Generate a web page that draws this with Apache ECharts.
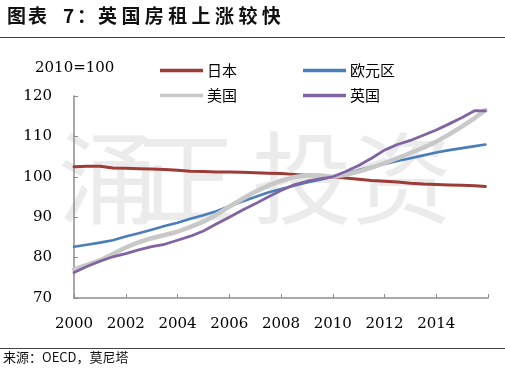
<!DOCTYPE html>
<html><head><meta charset="utf-8">
<script src="https://cdn.jsdelivr.net/npm/echarts@6/dist/echarts.min.js"></script>
<style>html,body{margin:0;padding:0;background:#fff;}#c{width:505px;height:369px;}</style>
</head><body><div id="c"></div>
<script>
const years = [2000,2000.5,2001,2001.5,2002,2002.5,2003,2003.5,2004,2004.5,2005,2005.5,2006,2006.5,2007,2007.5,2008,2008.5,2009,2009.5,2010,2010.5,2011,2011.5,2012,2012.5,2013,2013.5,2014,2014.5,2015,2015.5,2015.9];
const japan = [102.5,102.6,102.6,102.2,102.1,102.0,101.9,101.8,101.6,101.4,101.3,101.2,101.2,101.1,101.0,100.9,100.8,100.6,100.4,100.2,100.0,99.7,99.4,99.1,98.9,98.7,98.4,98.2,98.1,98.0,97.9,97.8,97.6];
const euro = [82.7,83.2,83.7,84.3,85.2,86.0,86.9,87.8,88.6,89.6,90.5,91.5,92.7,93.9,95.0,96.1,97.0,97.8,98.6,99.3,100.0,100.8,101.7,102.5,103.2,103.9,104.6,105.3,106.0,106.6,107.1,107.6,108.0];
const usa = [77.1,78.2,79.3,80.9,82.5,83.8,84.8,85.6,86.4,87.6,88.9,90.6,92.6,94.5,96.3,97.8,99.0,99.9,100.4,100.3,100.0,100.5,101.3,102.3,103.4,104.6,105.9,107.2,108.7,110.5,112.5,114.6,116.5];
const uk = [76.3,77.8,79.1,80.2,81.0,81.9,82.7,83.3,84.3,85.3,86.6,88.3,90.0,91.7,93.3,95.0,96.6,98.0,98.9,99.5,100.0,101.3,102.8,104.6,106.6,108.0,109.0,110.3,111.6,113.1,114.7,116.4,116.3];
const seriesNames = ['日本','欧元区','美国','英国'];
const xTicks = [2000,2002,2004,2006,2008,2010,2012,2014];
const titleText = '图表 7：英国房租上涨较快';
const unitText = '2010=100';
const sourceText = '来源：OECD，莫尼塔';
const watermark = '涌正投资';

const chart = echarts.init(document.getElementById('c'), null, {renderer:'canvas'});
const pair = v => years.map((y,i)=>[y, v[i]]);
const colors = ['#9d3b37','#4a7ebb','#c8c8c8','#8064a2'];
const widths = [3,2.6,4.5,2.8];
const vals = [japan, euro, usa, uk];

// title characters positions
const titleX = [7,28,63,77,98,121.4,144.8,168.2,191.6,215,238.4,261.8];
const tchars = Array.from(titleText).filter(c=>c!==' ');
const graphics = [];
tchars.forEach((ch,i)=>{
  graphics.push({type:'text', left:titleX[i], top:6, z:10, style:{text:ch, font:'bold 19px "Noto Sans CJK SC"', fill:'#111'}});
});
const wmX = [58,135,252,352];
Array.from(watermark).forEach((ch,i)=>{
  graphics.push({type:'text', left:wmX[i], top:128, z:-10, silent:true, style:{text:ch, font:'100px "Noto Sans CJK SC"', fill:'#ebebeb'}});
});
graphics.push({type:'line', z:10, shape:{x1:0,y1:37.5,x2:505,y2:37.5}, style:{stroke:'#444',lineWidth:1}});
graphics.push({type:'line', z:10, shape:{x1:0,y1:348.5,x2:505,y2:348.5}, style:{stroke:'#444',lineWidth:1}});
graphics.push({type:'text', left:3, top:351, style:{text:sourceText, font:'13px "Noto Sans CJK SC"', fill:'#111'}});
graphics.push({type:'text', left:35, top:61, style:{text:unitText, font:'15px "DejaVu Serif"', fill:'#000'}});

const legendPos = [[160,63],[303,63],[160,88],[303,88]];
const legends = seriesNames.map((n,i)=>({
  data:[n], left:legendPos[i][0], top:legendPos[i][1], orient:'horizontal',
  icon:'rect', itemWidth:43, itemHeight:3.5, itemGap:0, padding:0,
  textStyle:{fontFamily:'"Noto Sans CJK SC"', fontSize:15, color:'#000', padding:[0,0,0,-1]},
  selectedMode:false
}));

chart.setOption({
  animation:false,
  graphic:graphics,
  legend:legends,
  grid:{left:74, right:17, top:96, bottom:71, containLabel:false},
  xAxis:{type:'value', min:2000, max:2016, interval:2,
    axisLine:{lineStyle:{color:'#8c8c8c', width:1.5}},
    axisTick:{inside:true, length:4, lineStyle:{color:'#8c8c8c', width:1}},
    splitLine:{show:false},
    axisLabel:{margin:19, fontFamily:'DejaVu Serif', fontSize:15, color:'#000',
      formatter:v=> xTicks.indexOf(v)>=0 ? String(v) : ''}},
  yAxis:{type:'value', min:70, max:120, interval:10,
    axisLine:{show:true, lineStyle:{color:'#8c8c8c', width:1.5}},
    axisTick:{show:true, inside:true, length:4, lineStyle:{color:'#8c8c8c', width:1}},
    splitLine:{show:false},
    axisLabel:{margin:22, fontFamily:'DejaVu Serif', fontSize:15, color:'#000'}},
  series: seriesNames.map((n,i)=>({
    name:n, type:'line', data:pair(vals[i]), showSymbol:false, symbol:'none',
    lineStyle:{color:colors[i], width:widths[i], cap:'round', join:'round'},
    itemStyle:{color:colors[i]}
  }))
});
</script></body></html>
